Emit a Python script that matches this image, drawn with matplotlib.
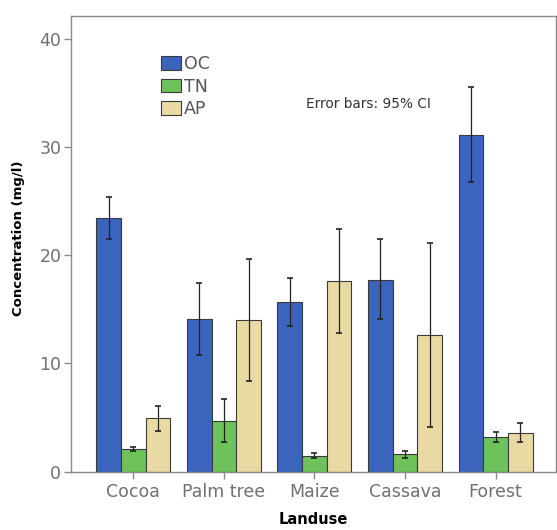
import matplotlib
matplotlib.use("Agg")
import matplotlib.pyplot as plt
import numpy as np

categories = ["Cocoa", "Palm tree", "Maize", "Cassava", "Forest"]
series = ["OC", "TN", "AP"]

oc = [23.4, 14.1, 15.7, 17.7, 31.1]
oc_lo = [21.5, 10.8, 13.5, 14.1, 26.75]
oc_hi = [25.4, 17.45, 17.85, 21.45, 35.5]

tn = [2.1, 4.7, 1.45, 1.63, 3.17]
tn_lo = [1.95, 2.7, 1.3, 1.3, 2.77]
tn_hi = [2.25, 6.7, 1.7, 1.94, 3.67]

ap = [4.96, 14.0, 17.65, 12.6, 3.6]
ap_lo = [3.8, 8.4, 12.8, 4.15, 2.74]
ap_hi = [6.1, 19.6, 22.4, 21.15, 4.47]

colors = ["#3b64bd", "#6dc25a", "#e9daa3"]
tick_color = "#707070"
spine_color = "#8a8a8a"

fig = plt.figure(figsize=(5.57, 5.30), dpi=100)
ax = fig.add_axes([0.1275, 0.11, 0.8705, 0.86])

x = np.arange(len(categories))
w = 0.272
data = [(oc, oc_lo, oc_hi), (tn, tn_lo, tn_hi), (ap, ap_lo, ap_hi)]
for i, ((vals, lo, hi), name, col) in enumerate(zip(data, series, colors)):
    pos = x + (i - 1) * w
    vals = np.array(vals)
    yerr = [vals - np.array(lo), np.array(hi) - vals]
    ax.bar(pos, vals, width=w, color=col, edgecolor="#3a3a3a", linewidth=0.8,
           label=name, zorder=2)
    ax.errorbar(pos, vals, yerr=yerr, fmt="none", ecolor="#222222",
                elinewidth=0.9, capsize=2.5, capthick=1.2, zorder=3)

ax.set_xlim(-0.688, 4.666)
ax.set_ylim(0, 42.1)
ax.set_yticks([0, 10, 20, 30, 40])
ax.set_xticks(x)
ax.set_xticklabels(categories)
ax.tick_params(axis="both", colors=spine_color, labelcolor=tick_color,
               labelsize=12.5, length=5, width=1)
ax.tick_params(axis="x", pad=3)
ax.tick_params(axis="y", pad=2)

for s in ax.spines.values():
    s.set_color(spine_color)
    s.set_linewidth(1.0)

ax.set_xlabel("Landuse", fontsize=10.5, fontweight="bold", labelpad=8)
ax.set_ylabel("Concentration (mg/l)", fontsize=9.5, fontweight="bold")
ax.yaxis.set_label_coords(-0.094, 0.513)

leg = ax.legend(loc="upper left", bbox_to_anchor=(0.186, 0.915), frameon=False,
                fontsize=12.5, handlelength=1.15, handleheight=0.85,
                handletextpad=0.15, labelspacing=0.28, borderpad=0,
                borderaxespad=0, labelcolor="#555555")

ax.text(0.485, 0.807, "Error bars: 95% CI", transform=ax.transAxes,
        fontsize=9.8, color="#333333", ha="left", va="center")

fig.savefig("out.png", dpi=100)
